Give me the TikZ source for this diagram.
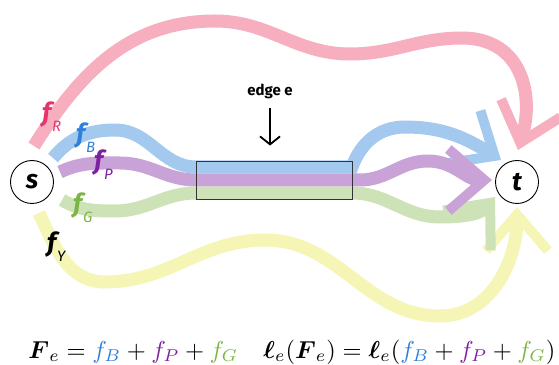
\documentclass[tikz,border=0pt]{standalone}
\usepackage{amsmath,amssymb}
\usepackage{fontspec}
\newfontfamily\labfont{Fira Sans}
\usetikzlibrary{arrows.meta}
\definecolor{bandR}{HTML}{F7AEBE}
\definecolor{bandB}{HTML}{A3C9EE}
\definecolor{bandP}{HTML}{C9A3D8}
\definecolor{bandG}{HTML}{CDE3B7}
\definecolor{bandY}{HTML}{F5F5B6}
\definecolor{inkR}{HTML}{E8336B}
\definecolor{inkB}{HTML}{2F80D8}
\definecolor{inkP}{HTML}{7E1FA0}
\definecolor{inkG}{HTML}{7DB545}
\newcommand{\flowlabel}[2]{{\color{#1}f\kern1pt\raisebox{-0.36em}{\mdseries\fontsize{15}{15}\selectfont #2}}}

\begin{document}
\begin{tikzpicture}[x=1pt,y=1pt,
  band/.style={line width=13pt},
  tipped/.style={-{Straight Barb[length=36pt,width=62pt,line width=10pt,sharp]}},
  vertex/.style={circle,draw,line width=0.9pt,fill=white,minimum size=43pt,inner sep=0pt,
    font=\labfont\bfseries\itshape\fontsize{26}{26}\selectfont},
  flowlab/.style={anchor=base west,inner sep=0pt,font=\labfont\bfseries\itshape\fontsize{26}{26}\selectfont},
  pointer/.style={line width=1.8pt,-{Straight Barb[length=8pt,width=20pt,line width=1.8pt]}},
  formula/.style={anchor=base west,inner sep=0pt,scale=2.45}]
\useasboundingbox (0,0) rectangle (559,364);
\node[vertex] (s) at (32,182) {s};
\node[vertex] (t) at (517,182) {t};
% start and end of each flow
\coordinate (sR) at (34,218);   \coordinate (tR) at (518,214);
\coordinate (sB) at (53,206);   \coordinate (tB) at (501,204);
\coordinate (sP) at (60,192);   \coordinate (tP) at (492,184);
\coordinate (sG) at (62,164);   \coordinate (tG) at (495,167);
\coordinate (sY) at (39,151);   \coordinate (tY) at (517,157);
% flows
\draw[band,bandY,tipped] (sY) to[out=-65,in=180] (105,82) to[out=0,in=180] (265,124)
  to[out=0,in=180] (440,48) to[out=0,in=270] (tY);
\draw[band,bandG,tipped] (sG) to[out=-30,in=180] (115,153) to[out=0,in=180] (196,171) -- (352,171)
  to[out=0,in=180] (440,147) to[out=0,in=230] (tG);
\draw[band,bandB,tipped] (sB) to[out=50,in=180] (115,234) to[out=0,in=180] (196,197) -- (352,197)
  to[out=70,in=180] (405,237) to[out=0,in=148] (tB);
\draw[band,bandP,tipped] (sP) to[out=25,in=180] (120,201) to[out=0,in=180] (196,184) -- (360,184)
  to[out=0,in=180] (428,203) to[out=0,in=180] (tP);
\draw[band,bandR,tipped] (sR) to[out=58,in=180] (215,343) to[out=0,in=180] (350,310)
  to[out=0,in=180] (462,326) to[out=0,in=73,looseness=1.2] (tR);
% edge e
\node[draw=black!80,line width=0.9pt,minimum width=156pt,minimum height=38pt,inner sep=0pt] (edge) at (274,184) {};
\node[font=\labfont\bfseries\fontsize{15}{15}\selectfont] (elab) at (270,273) {edge e};
\draw[pointer,shorten <=6pt,shorten >=15pt] (elab) -- (elab |- edge.north);
% labels
\node[flowlab] (lR) at (42,242) {\flowlabel{inkR}{R}};
\node[flowlab] (lB) at (76,221) {\flowlabel{inkB}{B}};
\node[flowlab] (lP) at (94,194) {\flowlabel{inkP}{P}};
\node[flowlab] (lG) at (73,151) {\flowlabel{inkG}{G}};
\node[flowlab] (lY) at (47,112) {\flowlabel{black}{Y}};
% formulas
\node[formula] (load) at (28,6) {$\boldsymbol{F}_e = {\color{inkB}f_B} + {\color{inkP}f_P} + {\color{inkG}f_G}$};
\node[formula] (cost) at (263,6) {$\boldsymbol{\ell}_e(\boldsymbol{F}_e) = \boldsymbol{\ell}_e({\color{inkB}f_B} + {\color{inkP}f_P} + {\color{inkG}f_G})$};
\end{tikzpicture}
\end{document}
